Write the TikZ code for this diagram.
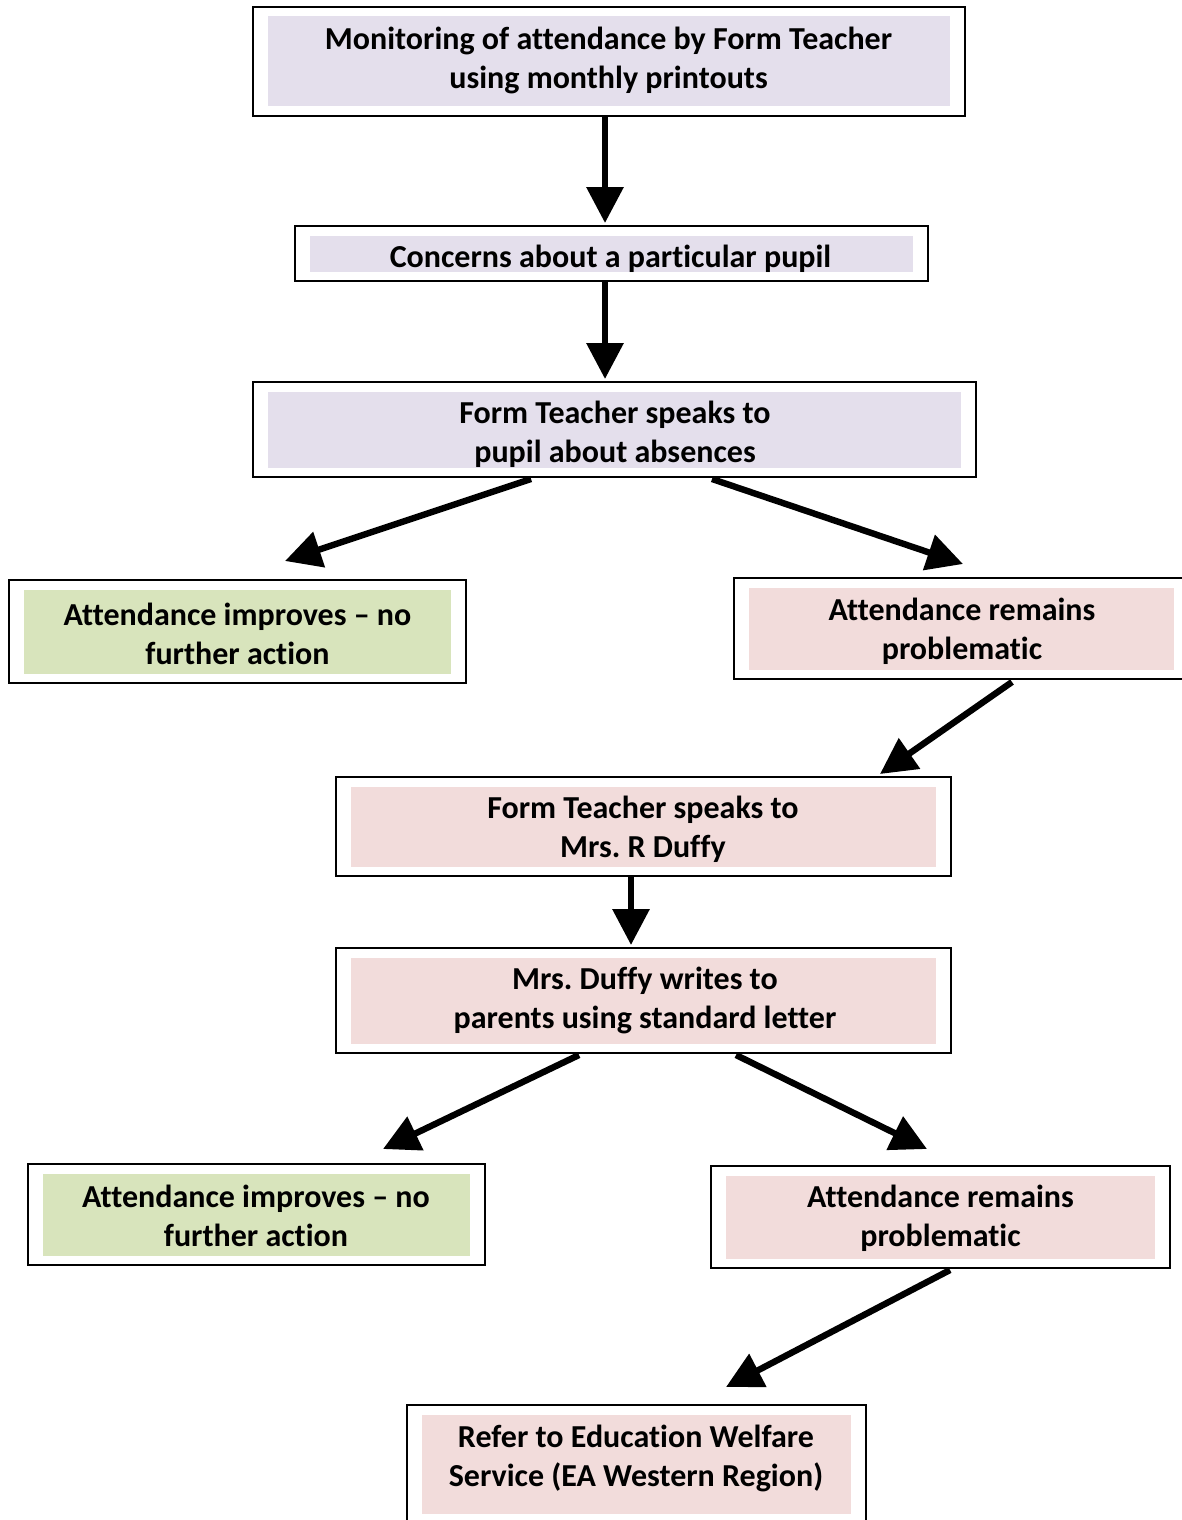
\documentclass[tikz,border=0pt]{standalone}
\usepackage{fontspec}
\setmainfont{Carlito}[Ligatures=NoCommon]
\usetikzlibrary{arrows.meta,calc,fit}
\definecolor{lav}{HTML}{E4DFEC}
\definecolor{grn}{HTML}{D8E4BC}
\definecolor{pnk}{HTML}{F2DCDB}
\frenchspacing
\newcommand\flowbox[6]{%
  \node[frame, fit={(#2,#3) (#4,#5)}] (#1) {};
  \fill[#6] ($(#1.north west)+(16,10.5)$) rectangle ($(#1.south east)+(-16,-10.5)$);
}
\begin{document}
\begin{tikzpicture}[x=0.5pt,y=-0.5pt,
  frame/.style={draw=black, line width=1pt, inner sep=0pt},
  lbl/.style={font=\bfseries\fontsize{16pt}{19.5pt}\selectfont, align=center, inner sep=0pt},
  arr/.style={line width=3.2pt, -{Triangle[length=18pt,width=18pt]}}]
\useasboundingbox (0,0) rectangle (1182,1520);
\fill[white] (0,0) rectangle (1182,1520);

\flowbox{n1}{253}{7}{965}{116}{lav}
\flowbox{n2}{295}{226}{928}{281}{lav}
\flowbox{n3}{253}{382}{976}{477}{lav}
\flowbox{n4}{9}{580}{466}{683}{grn}
\flowbox{n5}{734}{578}{1189}{679}{pnk}
\flowbox{n6}{336}{777}{951}{876}{pnk}
\flowbox{n7}{336}{948}{951}{1053}{pnk}
\flowbox{n8}{28}{1164}{485}{1265}{grn}
\flowbox{n9}{711}{1166}{1170}{1268}{pnk}
\flowbox{n10}{407}{1405}{866}{1523}{pnk}

\node[lbl] (t1) at (608.5,60.5) {Monitoring of attendance by Form Teacher\\using monthly printouts};
\node[lbl] (t2) at (610.5,259) {Concerns about a particular pupil};
\node[lbl] (t3) at (615,434.5) {Form Teacher speaks to\\pupil about absences};
\node[lbl] (t4) at (237.5,633.5) {Attendance improves -- no\\further action};
\node[lbl] (t5) at (962,631) {Attendance remains\\problematic};
\node[lbl] (t6) at (643,829.5) {Form Teacher speaks to\\Mrs. R Duffy};
\node[lbl] (t7) at (645,1000.5) {Mrs. Duffy writes to\\parents using standard letter};
\node[lbl] (t8) at (256,1215.5) {Attendance improves -- no\\further action};
\node[lbl] (t9) at (940.5,1218.5) {Attendance remains\\problematic};
\node[lbl] (t10) at (636,1458.5) {Refer to Education Welfare\\Service (EA Western Region)};

\draw[arr] ($(n1.south)+(-4,0)$) -- ($(n2.north)+(-6.5,-2)$);
\draw[arr] ($(n2.south)+(-6.5,0)$) -- ($(n3.north)+(-9.5,-2)$);
\draw[arr] ($(n3.south)+(-83.5,1)$) -- ($(n4.north)+(47.5,-18)$);
\draw[arr] ($(n3.south)+(97.5,1)$) -- ($(n5.north)+(1.5,-13)$);
\draw[arr] ($(n5.south)+(50.5,2)$) -- ($(n6.north)+(236.5,-2)$);
\draw[arr] ($(n6.south)+(-12.5,0)$) -- ($(n7.north)+(-12.5,-2)$);
\draw[arr] ($(n7.south)+(-64.5,1)$) -- ($(n8.north)+(126.5,-14)$);
\draw[arr] ($(n7.south)+(92.5,1)$) -- ($(n9.north)+(-13.5,-16)$);
\draw[arr] ($(n9.south)+(9.5,1)$) -- ($(n10.north)+(89.5,-17)$);
\end{tikzpicture}
\end{document}
